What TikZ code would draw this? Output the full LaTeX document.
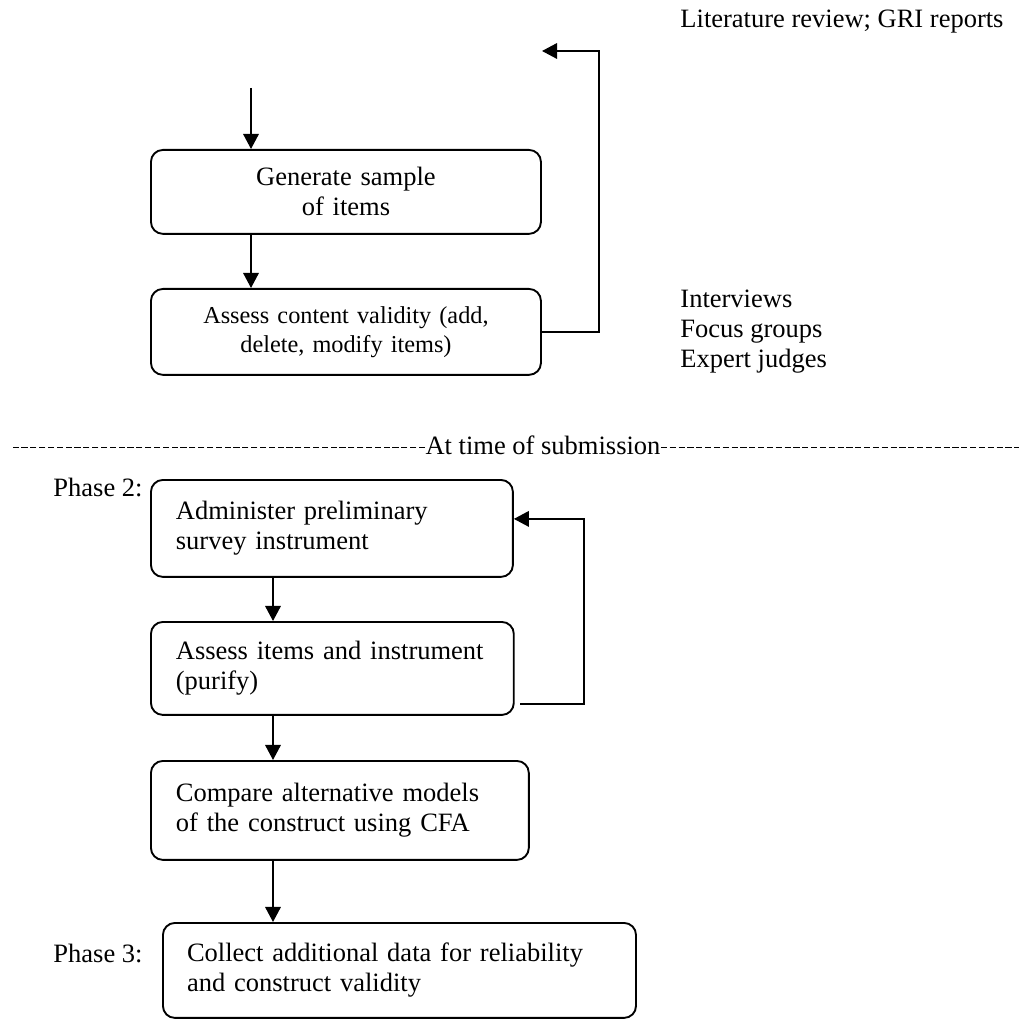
\documentclass[tikz,border=0pt]{standalone}
\usepackage{fontspec}
\setmainfont{Liberation Serif}
\usetikzlibrary{arrows.meta,calc}
\begin{document}
\begin{tikzpicture}[x=0.4528pt,y=-0.4528pt,
    font=\fontsize{12}{13.6}\selectfont,
    stage/.style={draw,rounded corners=5.4pt,line width=0.85pt,inner xsep=11.3pt,inner ysep=0pt,anchor=north west,align=left},
    flow/.style={line width=0.85pt,-{Triangle[length=6.8pt,width=7pt]}},
    hyphens/.style={line width=0.65pt,dash pattern=on 2.8pt off 1.2pt}]
  \useasboundingbox (0,0) rectangle (1018,1019);
  % phase 1
  \node[stage,align=center,text width=154pt,minimum height=38pt] (gen) at (150,149) {Generate sample\\of items};
  \node[stage,align=center,text width=154pt,minimum height=38.9pt,font=\fontsize{11}{13.1}\selectfont] (content) at (150,288) {Assess content validity (add,\\delete, modify items)};
  \node[anchor=west,inner sep=0pt] (lit) at (680,22) {Literature review; GRI reports};
  \node[anchor=west,align=left,inner sep=0pt] (methods) at (680,332) {Interviews\\Focus groups\\Expert judges};
  \coordinate (start) at (251,88);
  \coordinate (litend) at (542,51);
  \draw[flow] (start) -- (start |- gen.north);
  \draw[flow] (gen.south -| start) -- (content.north -| start);
  \draw[flow] (content.east) -- ++(57,0) |- (litend);
  % submission line
  \node[inner sep=0pt] (submit) at (543,445) {At time of submission};
  \draw[hyphens] ([yshift=-1.2pt]submit.west) -- ++(-415,0);
  \draw[hyphens] ([yshift=-1.2pt]submit.east) -- ++(370,0);
  % phases 2 and 3
  \node[anchor=east,inner sep=0pt] (ph2) at (143,487) {Phase 2:};
  \node[anchor=east,inner sep=0pt] (ph3) at (143,953) {Phase 3:};
  \node[stage,text width=141.3pt,minimum height=43.9pt] (admin) at (150,479) {Administer preliminary\\survey instrument};
  \node[stage,text width=141.7pt,minimum height=42.1pt] (purify) at (150,621) {Assess items and instrument\\(purify)};
  \node[stage,text width=148.5pt,minimum height=44.8pt] (cfa) at (150,760) {Compare alternative models\\of the construct using CFA};
  \node[stage,text width=192.4pt,inner xsep=10.9pt,minimum height=43pt] (collect) at (162,922) {Collect additional data for reliability\\and construct validity};
  \coordinate (spine) at (273,0);
  \coordinate (loopin) at (520,704);
  \draw[flow] (admin.south -| spine) -- (purify.north -| spine);
  \draw[flow] (purify.south -| spine) -- (cfa.north -| spine);
  \draw[flow] (cfa.south -| spine) -- (collect.north -| spine);
  \draw[flow] (loopin) -- ++(64,0) |- ($(admin.east)+(0,-9.5)$);
\end{tikzpicture}
\end{document}
